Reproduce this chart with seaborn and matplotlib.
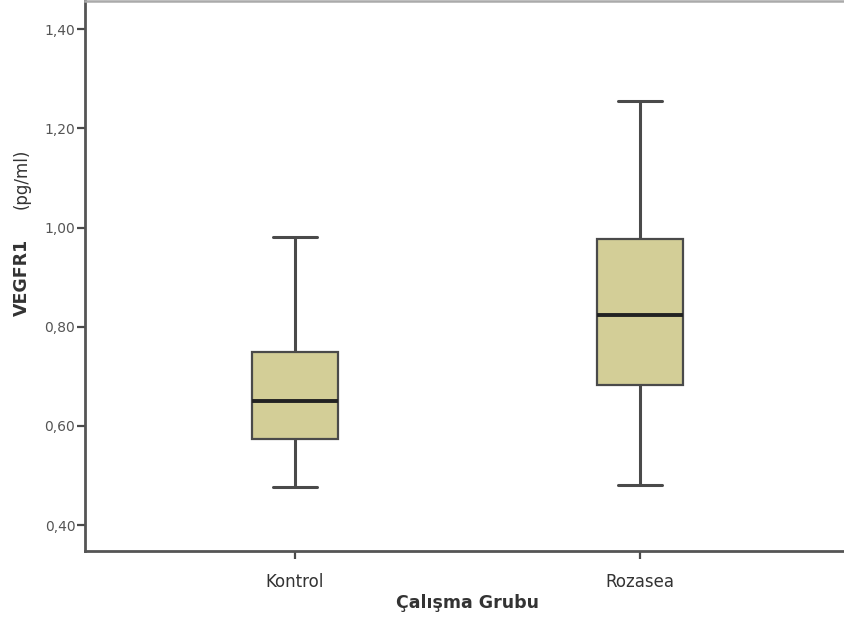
import numpy as np
import pandas as pd
import matplotlib
matplotlib.use("Agg")
import matplotlib.pyplot as plt
import seaborn as sns

# Five-number summaries per study group (VEGFR1, pg/ml)
groups = ["Kontrol", "Rozasea"]
minimums = [0.476, 0.481]
q1_values = [0.573, 0.682]
medians = [0.651, 0.823]
q3_values = [0.750, 0.976]
maximums = [0.980, 1.255]

y_ticks = [0.40, 0.60, 0.80, 1.00, 1.20, 1.40]
y_tick_labels = ["0,40", "0,60", "0,80", "1,00", "1,20", "1,40"]

# Build a long table whose quartiles and extremes equal the summaries
rows = []
for g, lo, a, m, b, hi in zip(groups, minimums, q1_values, medians, q3_values, maximums):
    for v in (lo, a, m, b, hi):
        rows.append({"Çalışma Grubu": g, "VEGFR1": v})
df = pd.DataFrame(rows)

sns.set_style("white")
plt.rcParams["font.family"] = ["DejaVu Sans"]

fig = plt.figure(figsize=(8.45, 6.19), dpi=100)
ax = fig.add_axes([85 / 845, 1 - 551 / 619, 765 / 845, 550 / 619])

edge = "#4a4a4a"
sns.boxplot(
    data=df, x="Çalışma Grubu", y="VEGFR1", order=groups, ax=ax,
    width=0.25, whis=(0, 100), color="#D3CE97", saturation=1,
    linecolor=edge, linewidth=1.6, fliersize=0,
    medianprops={"color": "#222222", "linewidth": 2.8},
    whiskerprops={"color": edge, "linewidth": 2.2},
    capprops={"color": edge, "linewidth": 2.2},
)

ax.set_xlim(-0.609, 1.609)
ax.set_ylim(0.3476, 1.457)
ax.set_yticks(y_ticks)
ax.set_yticklabels(y_tick_labels)

ax.tick_params(axis="y", direction="out", length=6, width=1.6, color=edge,
               labelsize=10, labelcolor="#555555", pad=1, left=True)
ax.tick_params(axis="x", direction="out", length=6, width=1.6, color=edge,
               labelsize=12, labelcolor="#333333", pad=10, bottom=True)

for side in ("left", "bottom"):
    ax.spines[side].set_color("#555555")
    ax.spines[side].set_linewidth(2)
ax.spines["top"].set_color("#aaaaaa")
ax.spines["top"].set_linewidth(1.8)
ax.spines["right"].set_visible(False)

ax.set_xlabel("Çalışma Grubu", fontsize=12.5, fontweight="bold", color="#333333", labelpad=2)
ax.set_ylabel("")
fig.text(22 / 845, 1 - 277 / 619, "VEGFR1", rotation=90, ha="center", va="center",
         fontsize=12.5, fontweight="bold", color="#333333")
fig.text(22 / 845, 1 - 179 / 619, "(pg/ml)", rotation=90, ha="center", va="center",
         fontsize=12, color="#333333")

fig.savefig("out.png", dpi=100)
